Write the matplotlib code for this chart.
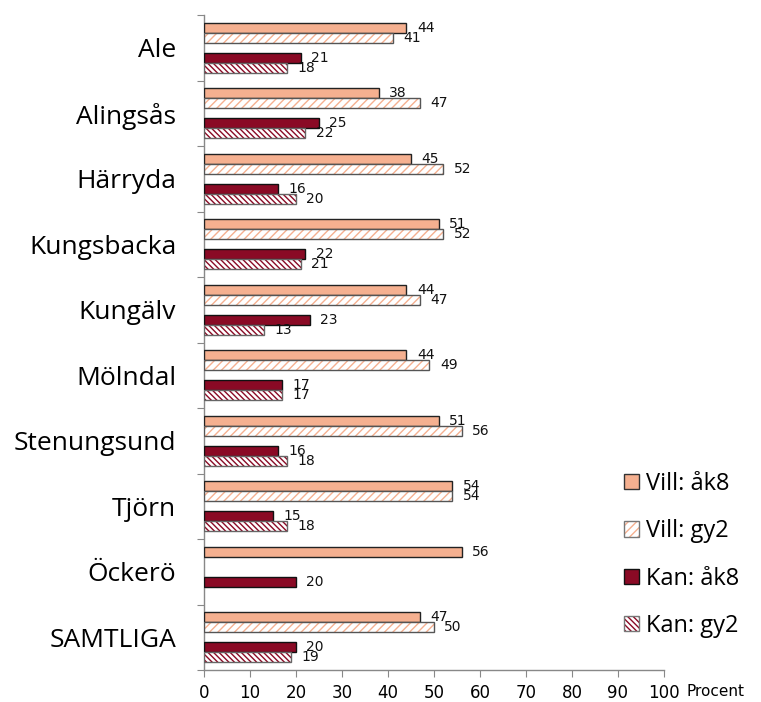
import numpy as np
import matplotlib
matplotlib.use("Agg")
import matplotlib.pyplot as plt
from matplotlib.patches import Patch
from matplotlib.legend_handler import HandlerTuple

categories = ["Ale", "Alingsås", "Härryda", "Kungsbacka", "Kungälv", "Mölndal",
              "Stenungsund", "Tjörn", "Öckerö", "SAMTLIGA"]
vill_ak8 = [44, 38, 45, 51, 44, 44, 51, 54, 56, 47]
vill_gy2 = [41, 47, 52, 52, 47, 49, 56, 54, np.nan, 50]
kan_ak8 = [21, 25, 16, 22, 23, 17, 16, 15, 20, 20]
kan_gy2 = [18, 22, 20, 21, 13, 17, 18, 18, np.nan, 19]
series_names = ["Vill: åk8", "Vill: gy2", "Kan: åk8", "Kan: gy2"]
x_ticks = list(range(0, 101, 10))

SALMON = "#F5B090"
DARKRED = "#8A0A25"
GRAY = "#888888"

fig = plt.figure(figsize=(7.61, 7.02), dpi=100)
ax = fig.add_axes([204/761, 1-670/702, 460/761, 655/702])

n = len(categories)
base = np.arange(n)
h = 0.15
offsets = [0.195, 0.345, 0.655, 0.805]

series = [vill_ak8, vill_gy2, kan_ak8, kan_gy2]
styles = [
    dict(kind="solid", face=SALMON, edge="#222222"),
    dict(kind="hatch", face=SALMON, edge="#555555", hatch="////"),
    dict(kind="solid", face=DARKRED, edge="#111111"),
    dict(kind="hatch", face=DARKRED, edge="#666666", hatch="\\\\\\\\\\\\"),
]

for vals, off, st in zip(series, offsets, styles):
    vals = np.array(vals, dtype=float)
    y = base + off
    if st["kind"] == "solid":
        ax.barh(y, vals, height=h, color=st["face"], edgecolor=st["edge"], linewidth=1.0, zorder=3)
    else:
        ax.barh(y, vals, height=h, color="white", edgecolor=st["face"], hatch=st["hatch"],
                linewidth=0, zorder=3)
        ax.barh(y, vals, height=h, fill=False, edgecolor=st["edge"], linewidth=1.0, zorder=4)
    for yy, v in zip(y, vals):
        if np.isnan(v):
            continue
        ax.annotate(f"{v:.0f}", xy=(v, yy), xytext=(7.5, 0), textcoords="offset points",
                    ha="left", va="center", fontsize=10, family="DejaVu Sans", color="#111111",
                    zorder=5)

ax.set_xlim(0, 100)
ax.set_ylim(n, 0)
ax.set_xticks(x_ticks)
ax.set_xticklabels([str(t) for t in x_ticks], fontsize=12, family="DejaVu Sans")
ax.set_yticks(np.arange(n + 1))
ax.set_yticklabels([])
ax.set_yticks(base + 0.5, minor=True)
ax.set_yticklabels(categories, minor=True, fontsize=19, family="Open Sans")
ax.tick_params(axis="y", which="major", length=5, color=GRAY, direction="out")
ax.tick_params(axis="y", which="minor", length=0, pad=20)
ax.tick_params(axis="x", which="major", length=5, color=GRAY, direction="out", pad=5)
for s in ["top", "right"]:
    ax.spines[s].set_visible(False)
for s in ["left", "bottom"]:
    ax.spines[s].set_color(GRAY)
    ax.spines[s].set_linewidth(1.0)

fig.text(687/761, 1-692/702, "Procent", fontsize=11, family="DejaVu Sans", ha="left", va="center")

handles = [
    Patch(facecolor=SALMON, edgecolor="#333333", linewidth=1.0),
    (Patch(facecolor="white", edgecolor=SALMON, hatch="////", linewidth=0),
     Patch(facecolor="none", edgecolor="#777777", linewidth=1.0)),
    Patch(facecolor=DARKRED, edgecolor="#111111", linewidth=1.0),
    (Patch(facecolor="white", edgecolor=DARKRED, hatch="\\\\\\\\\\\\", linewidth=0),
     Patch(facecolor="none", edgecolor="#777777", linewidth=1.0)),
]
fig.legend(handles, series_names, loc="upper left", bbox_to_anchor=(624/761, 1-472/702),
           frameon=False, borderpad=0, borderaxespad=0, handlelength=0.62, handleheight=0.62,
           handletextpad=0.3, labelspacing=0.99, prop=dict(family="Open Sans", size=17),
           handler_map={tuple: HandlerTuple(ndivide=1)})

fig.savefig("out.png", dpi=100)
